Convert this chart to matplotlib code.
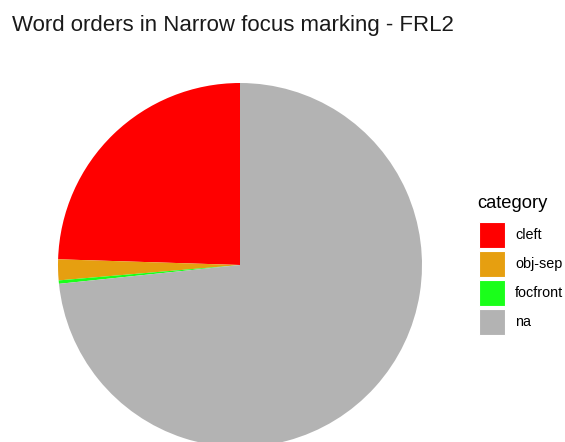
import matplotlib
matplotlib.use("Agg")
import matplotlib.pyplot as plt
from matplotlib.patches import Rectangle

# share of each word order (percent)
categories = ["cleft", "obj-sep", "focfront", "na"]
shares = [24.5, 1.85, 0.3, 73.35]
colors = ["#FF0000", "#E69F10", "#1AFF1A", "#B3B3B3"]

W, H = 565, 442
plt.rcParams['font.family'] = ['Liberation Sans', 'DejaVu Sans']

fig = plt.figure(figsize=(W / 100, H / 100), dpi=100)

# pie centre (240, 265) px from top-left, radius 182 px
cx, cy, r = 240, 265, 182
ax = fig.add_axes([(cx - r) / W, (H - cy - r) / H, 2 * r / W, 2 * r / H])
ax.pie(shares, colors=colors, startangle=90, counterclock=True,
       radius=1, wedgeprops=dict(linewidth=0))
ax.set_xlim(-1, 1)
ax.set_ylim(-1, 1)
ax.set_aspect('auto')
ax.axis('off')

fig.text(12 / W, 1 - 25 / H, "Word orders in Narrow focus marking - FRL2",
         fontsize=16, va='center', ha='left', color='#1a1a1a')

# legend
fig.text(477 / W, 1 - 204 / H, "category", fontsize=13.2, va='center', ha='left')
key_top, key_size, key_step = 222, 26, 29
for i, (lab, col) in enumerate(zip(categories, colors)):
    top = key_top + i * key_step
    fig.patches.append(Rectangle((479 / W, 1 - (top + key_size) / H), key_size / W, key_size / H,
                                 transform=fig.transFigure, facecolor=col, edgecolor='white',
                                 linewidth=0.8))
    fig.text(515 / W, 1 - (top + key_size / 2) / H, lab, fontsize=10.4, va='center', ha='left')

fig.savefig("out.png", dpi=100)
